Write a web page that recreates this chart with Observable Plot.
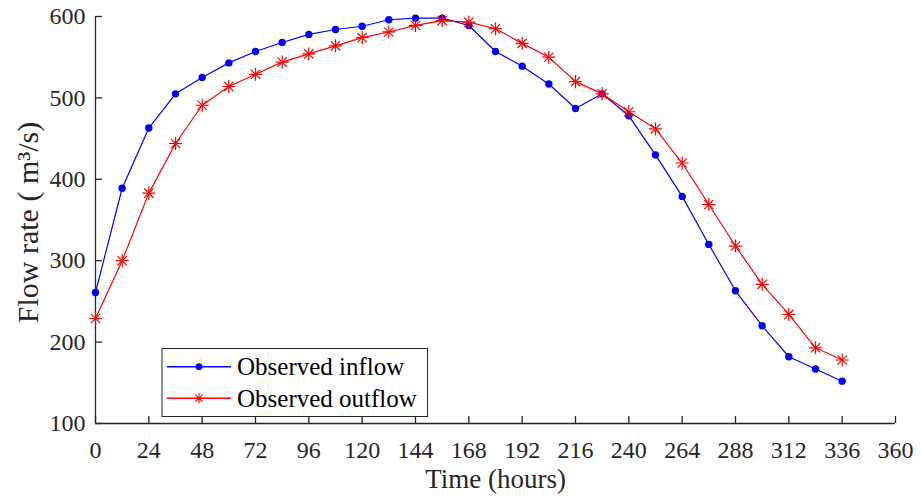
<!DOCTYPE html>
<html>
<head>
<meta charset="utf-8">
<script src="https://cdn.jsdelivr.net/npm/d3@7"></script>
<script src="https://cdn.jsdelivr.net/npm/@observablehq/plot@0.6"></script>
<style>
  body { margin: 0; background: #fff; }
  #chart { width: 921px; height: 498px; }
</style>
</head>
<body>
<div id="chart"></div>
<script>
const hours = [0, 12, 24, 36, 48, 60, 72, 84, 96, 108, 120, 132, 144, 156, 168, 180, 192, 204, 216, 228, 240, 252, 264, 276, 288, 300, 312, 324, 336];
const inflow = [261, 389, 463, 505, 525, 543, 557, 568, 578, 584, 588, 596, 598, 598, 589, 557, 539, 517, 487, 505, 478, 430, 379, 320, 263, 220, 182, 167, 152];
const outflow = [229, 300, 383, 444, 491, 514, 529, 544, 554, 564, 574, 581, 589, 595, 593, 585, 567, 550, 520, 505, 483, 462, 420, 369, 318, 271, 234, 193, 178];
const xTicks = [0, 24, 48, 72, 96, 120, 144, 168, 192, 216, 240, 264, 288, 312, 336, 360];
const yTicks = [100, 200, 300, 400, 500, 600];
const seriesNames = ["Observed inflow", "Observed outflow"];
const seriesColors = ["#0000ff", "#ff0000"];
const xLabel = "Time (hours)";
const yLabel = "Flow rate ( m³/s)";

const rows = hours.map((t, i) => ({t, inflow: inflow[i], outflow: outflow[i]}));
const axisColor = "#262626";
const font = "Liberation Serif, Times New Roman, serif";

const W = 921, H = 498, mL = 95, mR = 26, mT = 16, mB = 75;
const innerH = H - mT - mB, innerW = W - mL - mR;

const plot = Plot.plot({
  width: W,
  height: H,
  marginLeft: mL,
  marginRight: mR,
  marginTop: mT,
  marginBottom: mB,
  style: {fontFamily: font, background: "#fff", overflow: "visible"},
  x: {domain: [0, 360]},
  y: {domain: [100, 600]},
  marks: [
    // tick labels
    Plot.axisX({ticks: xTicks, tickSize: 0, tickPadding: 17, fontSize: 24, color: axisColor, label: null}),
    Plot.axisY({ticks: yTicks, tickSize: 0, tickPadding: 10, fontSize: 24, color: axisColor, label: null}),
    // inward ticks
    Plot.tickX(xTicks, {x: d => d, stroke: axisColor, strokeWidth: 1.3, insetTop: innerH - 7}),
    Plot.tickY(yTicks, {y: d => d, stroke: axisColor, strokeWidth: 1.3, insetRight: innerW - 7}),
    // axis lines
    Plot.ruleY([100], {stroke: axisColor, strokeWidth: 1.3}),
    Plot.ruleX([0], {stroke: axisColor, strokeWidth: 1.3}),
    // series
    Plot.line(rows, {x: "t", y: "inflow", stroke: seriesColors[0], strokeWidth: 1.2}),
    Plot.dot(rows, {x: "t", y: "inflow", r: 3.7, fill: seriesColors[0], stroke: "none"}),
    Plot.line(rows, {x: "t", y: "outflow", stroke: seriesColors[1], strokeWidth: 1.2}),
    Plot.dot(rows, {x: "t", y: "outflow", symbol: "plus", r: 4.3, stroke: seriesColors[1], strokeWidth: 1.2}),
    Plot.dot(rows, {x: "t", y: "outflow", symbol: "times", r: 4.3, stroke: seriesColors[1], strokeWidth: 1.2}),
    // axis titles
    Plot.text([xLabel], {frameAnchor: "bottom", dy: 56, fontSize: 27, lineAnchor: "middle", fill: axisColor}),
    Plot.text([yLabel], {frameAnchor: "left", textAnchor: "middle", dx: -67, dy: 2.5, rotate: -90, fontSize: 30, lineAnchor: "middle", fill: axisColor})
  ]
});

document.getElementById("chart").appendChild(plot);

// Legend (inside the plot area)
const svg = d3.select(plot);
const lg = svg.append("g").attr("font-family", font).attr("text-anchor", "start");
lg.append("rect").attr("x", 162).attr("y", 348.5).attr("width", 265.5).attr("height", 68)
  .attr("fill", "#fff").attr("stroke", axisColor).attr("stroke-width", 1);
const rowY = [366.7, 398.3];
seriesNames.forEach((name, i) => {
  const y = rowY[i];
  lg.append("line").attr("x1", 167).attr("x2", 231).attr("y1", y).attr("y2", y)
    .attr("stroke", seriesColors[i]).attr("stroke-width", 1.5);
  if (i === 0) {
    lg.append("circle").attr("cx", 199).attr("cy", y).attr("r", 3.4).attr("fill", seriesColors[i]);
  } else {
    const s = 5;
    const d = s * 0.72;
    lg.append("path").attr("d", `M199,${y - s}V${y + s}M${199 - s},${y}H${199 + s}M${199 - d},${y - d}L${199 + d},${y + d}M${199 - d},${y + d}L${199 + d},${y - d}`)
      .attr("stroke", seriesColors[i]).attr("stroke-width", 1.1).attr("fill", "none");
  }
  lg.append("text").attr("x", 237).attr("y", y + 8.3).attr("font-size", 25).attr("fill", "#000").text(name);
});
</script>
</body>
</html>
